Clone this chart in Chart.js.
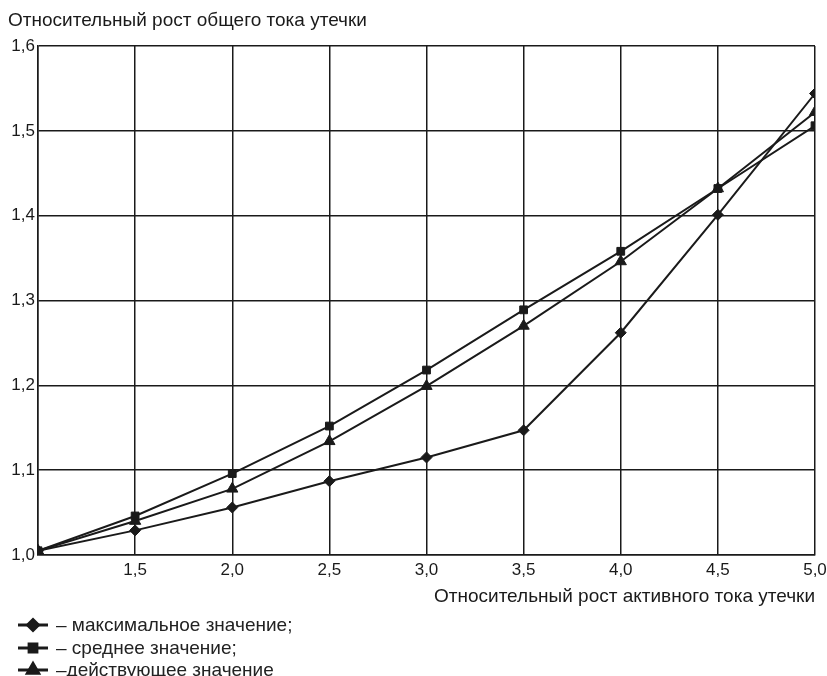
<!DOCTYPE html>
<html>
<head>
<meta charset="utf-8">
<script src="https://cdn.jsdelivr.net/npm/chart.js@4/dist/chart.umd.min.js"></script>
<style>
  html, body { margin: 0; padding: 0; background: #fff; }
  #wrap { position: relative; width: 827px; height: 676px; }
  #legend { position: absolute; left: 17px; top: 614px; font-family: "Liberation Sans", Arial, sans-serif; font-size: 19px; color: #222; }
  .item { display: flex; align-items: center; height: 22.5px; }
  .item canvas { margin-right: 7px; }
</style>
</head>
<body>
<div id="wrap">
  <canvas id="c" width="827" height="676"></canvas>
  <div id="legend"></div>
</div>
<script>
const xValues = [1.0, 1.5, 2.0, 2.5, 3.0, 3.5, 4.0, 4.5, 5.0];
const maxValues = [1.005, 1.029, 1.056, 1.087, 1.115, 1.147, 1.262, 1.401, 1.544];
const meanValues = [1.005, 1.046, 1.096, 1.152, 1.218, 1.289, 1.358, 1.432, 1.506];
const rmsValues = [1.005, 1.040, 1.078, 1.134, 1.199, 1.270, 1.346, 1.432, 1.522];
const seriesLabels = ['– максимальное значение;', '– среднее значение;', '–действующее значение'];
const yTitle = 'Относительный рост общего тока утечки';
const xTitle = 'Относительный рост активного тока утечки';

const FONT = '"Liberation Sans", Arial, sans-serif';
const INK = '#1a1a1a';

function pts(ys) { return xValues.map((x, i) => ({ x: x, y: ys[i] })); }
function fmt(v) { return v.toFixed(1).replace('.', ','); }

const styles = [
  { pointStyle: 'rectRot', radius: 5.5 },
  { pointStyle: 'rect', radius: 5.5 },
  { pointStyle: 'triangle', radius: 6.5 }
];
const seriesData = [maxValues, meanValues, rmsValues];

const datasets = seriesData.map((d, i) => ({
  label: seriesLabels[i],
  data: pts(d),
  borderColor: INK,
  backgroundColor: INK,
  borderWidth: 2,
  pointStyle: styles[i].pointStyle,
  pointRadius: styles[i].radius,
  pointBorderWidth: 1,
  tension: 0
}));

new Chart(document.getElementById('c'), {
  type: 'line',
  data: { datasets: datasets },
  options: {
    responsive: false,
    animation: false,
    layout: { padding: { left: 8, right: 0, top: 0, bottom: 68 } },
    plugins: {
      legend: { display: false },
      tooltip: { enabled: false },
      title: {
        display: true,
        text: yTitle,
        align: 'start',
        color: INK,
        font: { family: FONT, size: 19, weight: 'normal' },
        padding: { top: 9, bottom: 14.2 }
      }
    },
    scales: {
      x: {
        type: 'linear',
        min: 1, max: 5,
        ticks: {
          stepSize: 0.5,
          color: INK,
          padding: 5,
          font: { family: FONT, size: 17 },
          callback: v => (Math.abs(v - 1) < 1e-9 ? '' : fmt(v)),
          maxRotation: 0
        },
        grid: { color: INK, lineWidth: 1.5, drawTicks: false },
        border: { color: INK, width: 1.5 },
        title: {
          display: true,
          text: xTitle,
          align: 'end',
          color: INK,
          font: { family: FONT, size: 19 },
          padding: { top: 0, bottom: 0 }
        },
        afterFit: s => { s.height = 53; s.paddingRight = 12; }
      },
      y: {
        min: 1, max: 1.6,
        ticks: {
          stepSize: 0.1,
          color: INK,
          padding: 3,
          font: { family: FONT, size: 17 },
          callback: v => fmt(v)
        },
        grid: { color: INK, lineWidth: 1.5, drawTicks: false },
        border: { color: INK, width: 1.5 },
        afterFit: s => { s.width = 30; }
      }
    }
  }
});

// HTML legend with line + marker samples
const legend = document.getElementById('legend');
seriesLabels.forEach((lab, i) => {
  const row = document.createElement('div');
  row.className = 'item';
  const cv = document.createElement('canvas');
  cv.width = 32; cv.height = 20;
  const ctx = cv.getContext('2d');
  ctx.strokeStyle = INK; ctx.fillStyle = INK; ctx.lineWidth = 3;
  ctx.beginPath(); ctx.moveTo(1, 10); ctx.lineTo(31, 10); ctx.stroke();
  Chart.helpers.drawPoint(ctx, { pointStyle: styles[i].pointStyle, radius: styles[i].radius, borderWidth: 1 }, 16, 10);
  ctx.fill();
  row.appendChild(cv);
  const sp = document.createElement('span');
  sp.textContent = lab;
  row.appendChild(sp);
  legend.appendChild(row);
});
</script>
</body>
</html>
